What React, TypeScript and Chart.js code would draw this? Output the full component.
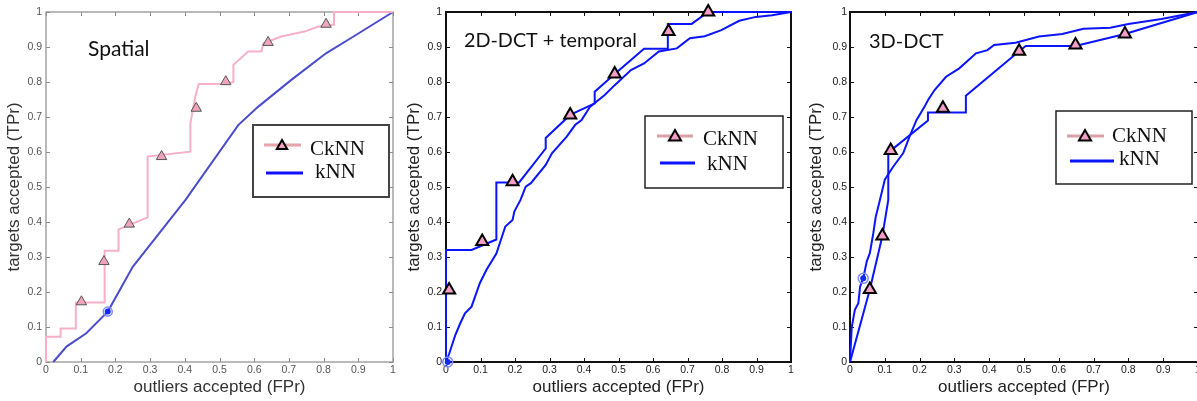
import { useEffect, useRef } from "react";
import { Chart, registerables } from "chart.js";

Chart.register(...registerables);

// ---------- shared axis data ----------
const AXIS_TICKS = [0, 0.1, 0.2, 0.3, 0.4, 0.5, 0.6, 0.7, 0.8, 0.9, 1];
const AXIS_TICK_LABELS = ["0", "0.1", "0.2", "0.3", "0.4", "0.5", "0.6", "0.7", "0.8", "0.9", "1"];
const X_TITLE = "outliers accepted (FPr)";
const Y_TITLE = "targets accepted (TPr)";
const SERIES_NAMES = ["CkNN", "kNN"];
const PANEL_TITLES = ["Spatial", "2D-DCT + temporal", "3D-DCT"];

// ---------- panel 1: Spatial ----------
const SP_CK_X = [0, 0, 0.042, 0.042, 0.086, 0.086, 0.169, 0.169, 0.209, 0.209, 0.293, 0.293, 0.416, 0.416, 0.43, 0.44, 0.516, 0.54, 0.54, 0.583, 0.621, 0.626, 0.678, 0.745, 0.783, 0.83, 0.83, 1];
const SP_CK_Y = [0, 0.072, 0.072, 0.096, 0.096, 0.17, 0.17, 0.318, 0.318, 0.379, 0.413, 0.587, 0.601, 0.682, 0.758, 0.794, 0.795, 0.8, 0.849, 0.887, 0.887, 0.91, 0.93, 0.944, 0.958, 0.964, 1, 1];
const SP_TRI_X = [0.102, 0.167, 0.24, 0.333, 0.433, 0.518, 0.64, 0.807];
const SP_TRI_Y = [0.172, 0.287, 0.394, 0.587, 0.725, 0.801, 0.913, 0.965];
const SP_KNN_X = [0.021, 0.059, 0.116, 0.178, 0.25, 0.402, 0.554, 0.611, 0.707, 0.807, 0.878, 1];
const SP_KNN_Y = [0, 0.044, 0.082, 0.144, 0.272, 0.463, 0.677, 0.729, 0.806, 0.882, 0.925, 1];
const SP_OP_X = [0.178];
const SP_OP_Y = [0.144];

// ---------- panel 2: 2D-DCT + temporal ----------
const DT_CK_X = [0, 0, 0.074, 0.146, 0.146, 0.212, 0.289, 0.289, 0.36, 0.431, 0.431, 0.489, 0.574, 0.643, 0.643, 0.712, 0.76, 1];
const DT_CK_Y = [0, 0.32, 0.32, 0.35, 0.513, 0.513, 0.61, 0.64, 0.706, 0.739, 0.772, 0.823, 0.895, 0.895, 0.966, 0.966, 1, 1];
const DT_TRI_X = [0.009, 0.105, 0.193, 0.36, 0.489, 0.645, 0.76];
const DT_TRI_Y = [0.206, 0.344, 0.515, 0.706, 0.823, 0.944, 1.0];
const DT_KNN_X = [0, 0.0097, 0.027, 0.041, 0.055, 0.074, 0.098, 0.117, 0.146, 0.172, 0.193, 0.198, 0.216, 0.231, 0.246, 0.289, 0.307, 0.35, 0.374, 0.393, 0.417, 0.46, 0.489, 0.536, 0.574, 0.617, 0.669, 0.707, 0.75, 0.798, 0.85, 0.898, 0.945, 1];
const DT_KNN_Y = [0, 0.025, 0.077, 0.11, 0.139, 0.158, 0.225, 0.263, 0.31, 0.387, 0.406, 0.43, 0.463, 0.501, 0.511, 0.563, 0.596, 0.644, 0.677, 0.691, 0.729, 0.763, 0.791, 0.834, 0.853, 0.887, 0.896, 0.925, 0.931, 0.948, 0.975, 0.986, 0.991, 1];
const DT_OP_X = [0.005];
const DT_OP_Y = [0];

// ---------- panel 3: 3D-DCT ----------
const DC_CK_X = [0, 0.057, 0.093, 0.11, 0.11, 0.117, 0.224, 0.224, 0.333, 0.333, 0.486, 0.505, 0.648, 0.79, 1];
const DC_CK_Y = [0, 0.207, 0.36, 0.463, 0.597, 0.604, 0.69, 0.713, 0.713, 0.761, 0.888, 0.903, 0.903, 0.937, 1];
const DC_TRI_X = [0.057, 0.093, 0.117, 0.267, 0.486, 0.648, 0.79];
const DC_TRI_Y = [0.207, 0.36, 0.604, 0.725, 0.888, 0.906, 0.937];
const DC_KNN_X = [0, 0.005, 0.014, 0.024, 0.029, 0.038, 0.048, 0.057, 0.067, 0.074, 0.086, 0.1, 0.124, 0.153, 0.171, 0.191, 0.214, 0.224, 0.243, 0.276, 0.314, 0.362, 0.395, 0.414, 0.476, 0.543, 0.61, 0.671, 0.748, 0.8, 0.895, 1];
const DC_KNN_Y = [0, 0.1, 0.149, 0.168, 0.215, 0.239, 0.287, 0.311, 0.368, 0.415, 0.463, 0.521, 0.558, 0.597, 0.644, 0.691, 0.729, 0.748, 0.777, 0.815, 0.839, 0.882, 0.891, 0.906, 0.912, 0.93, 0.937, 0.952, 0.955, 0.966, 0.98, 1];
const DC_OP_X = [0.038];
const DC_OP_Y = [0.239];

const pts = (xs: number[], ys: number[]) => xs.map((x, i) => ({ x, y: ys[i] }));

type Style = {
  left: number;
  width: number;
  yAxisWidth: number;
  padRight: number;
  yTitlePad: number;
  yTickPad: number;
  axisColor: string;
  axisWidth: number;
  tickColor: string;
  titleColor: string;
  ckColor: string;
  knnColor: string;
  triFill: string;
  triBorder: string;
  triBorderWidth: number;
  triRadius: number;
  opRing: number;
  title: { text: string; x: number; y: number; size: number };
  legend: {
    x: number; y: number; w: number; h: number; border: string; borderWidth: number;
    ckLine: string; knnLine: string;
    rows: { x1: number; x2: number; y: number; tx: number; ty: number }[];
    tri: number;
  };
};

const STYLES: Style[] = [
  {
    left: 0, width: 400, yAxisWidth: 46, padRight: 4, yTitlePad: 4, yTickPad: 4,
    axisColor: "#8c8c8c", axisWidth: 1.2, tickColor: "#555", titleColor: "#333",
    ckColor: "#f7b0c6", knnColor: "#4a4ccc",
    triFill: "#eea4ba", triBorder: "#555", triBorderWidth: 1, triRadius: 6,
    opRing: 4.5,
    title: { text: PANEL_TITLES[0], x: 88, y: 56, size: 21 },
    legend: {
      x: 253, y: 125, w: 136, h: 72, border: "#444", borderWidth: 2,
      ckLine: "#e8a2aa", knnLine: "#1010ff",
      rows: [
        { x1: 264, x2: 301, y: 145, tx: 310, ty: 155 },
        { x1: 266, x2: 303, y: 173, tx: 315, ty: 178 },
      ],
      tri: 282,
    },
  },
  {
    left: 400, width: 400, yAxisWidth: 46, padRight: 4, yTitlePad: 4, yTickPad: 4,
    axisColor: "#111", axisWidth: 2, tickColor: "#222", titleColor: "#222",
    ckColor: "#0a14ff", knnColor: "#0a14ff",
    triFill: "#f59ec6", triBorder: "#000", triBorderWidth: 2, triRadius: 7,
    opRing: 5,
    title: { text: PANEL_TITLES[1], x: 64, y: 47, size: 19.8 },
    legend: {
      x: 245, y: 116, w: 138, h: 72, border: "#222", borderWidth: 1.5,
      ckLine: "#dca0a8", knnLine: "#0a14ff",
      rows: [
        { x1: 257, x2: 293, y: 136, tx: 303, ty: 145 },
        { x1: 260, x2: 295, y: 163, tx: 307, ty: 170 },
      ],
      tri: 275,
    },
  },
  {
    left: 797, width: 410, yAxisWidth: 53, padRight: 7, yTitlePad: 9, yTickPad: 3,
    axisColor: "#111", axisWidth: 2, tickColor: "#222", titleColor: "#222",
    ckColor: "#0a14ff", knnColor: "#0a14ff",
    triFill: "#f59ec6", triBorder: "#000", triBorderWidth: 2, triRadius: 7,
    opRing: 5,
    title: { text: PANEL_TITLES[2], x: 72, y: 48, size: 20 },
    legend: {
      x: 259, y: 111, w: 136, h: 73, border: "#222", borderWidth: 1.5,
      ckLine: "#dca0a8", knnLine: "#0a14ff",
      rows: [
        { x1: 270, x2: 307, y: 136, tx: 315, ty: 142 },
        { x1: 273, x2: 317, y: 161, tx: 322, ty: 165 },
      ],
      tri: 288,
    },
  },
];

const PANEL_DATA = [
  { ck: pts(SP_CK_X, SP_CK_Y), tri: pts(SP_TRI_X, SP_TRI_Y), knn: pts(SP_KNN_X, SP_KNN_Y), op: pts(SP_OP_X, SP_OP_Y) },
  { ck: pts(DT_CK_X, DT_CK_Y), tri: pts(DT_TRI_X, DT_TRI_Y), knn: pts(DT_KNN_X, DT_KNN_Y), op: pts(DT_OP_X, DT_OP_Y) },
  { ck: pts(DC_CK_X, DC_CK_Y), tri: pts(DC_TRI_X, DC_TRI_Y), knn: pts(DC_KNN_X, DC_KNN_Y), op: pts(DC_OP_X, DC_OP_Y) },
];

function triPath(ctx: CanvasRenderingContext2D, x: number, y: number, r: number) {
  const s = Math.sin(Math.PI * 2 / 3) * r;
  ctx.beginPath();
  ctx.moveTo(x, y - r);
  ctx.lineTo(x + s, y + r / 2);
  ctx.lineTo(x - s, y + r / 2);
  ctx.closePath();
}

const framePlugin = {
  id: "frame",
  beforeDatasetsDraw(chart: any, _a: any, opts: any) {
    const st: Style = opts.style;
    const { ctx, chartArea } = chart;
    const { left, right, top, bottom } = chartArea;
    const xs = chart.scales.x;
    const ys = chart.scales.y;
    ctx.save();
    ctx.strokeStyle = st.axisColor;
    ctx.lineWidth = st.axisWidth;
    ctx.strokeRect(left, top, right - left, bottom - top);
    ctx.lineWidth = 1;
    const L = 4;
    ctx.beginPath();
    AXIS_TICKS.forEach((v) => {
      const px = Math.round(xs.getPixelForValue(v)) + 0.5;
      ctx.moveTo(px, bottom); ctx.lineTo(px, bottom - L);
      ctx.moveTo(px, top); ctx.lineTo(px, top + L);
      const py = Math.round(ys.getPixelForValue(v)) + 0.5;
      ctx.moveTo(left, py); ctx.lineTo(left + L, py);
      ctx.moveTo(right, py); ctx.lineTo(right - L, py);
    });
    ctx.stroke();
    ctx.restore();
  },
  afterDraw(chart: any, _a: any, opts: any) {
    const st: Style = opts.style;
    const { ctx } = chart;
    ctx.save();
    // panel title
    ctx.fillStyle = "#111";
    ctx.font = `${st.title.size}px Lato, "Open Sans", sans-serif`;
    ctx.textBaseline = "alphabetic";
    ctx.textAlign = "left";
    ctx.fillText(st.title.text, st.title.x, st.title.y);
    // legend
    const lg = st.legend;
    ctx.fillStyle = "#fff";
    ctx.fillRect(lg.x, lg.y, lg.w, lg.h);
    ctx.strokeStyle = lg.border;
    ctx.lineWidth = lg.borderWidth;
    ctx.strokeRect(lg.x, lg.y, lg.w, lg.h);
    ctx.font = `21px "Liberation Serif", "Times New Roman", serif`;
    lg.rows.forEach((r, i) => {
      ctx.strokeStyle = i === 0 ? lg.ckLine : lg.knnLine;
      ctx.lineWidth = 3;
      ctx.beginPath();
      ctx.moveTo(r.x1, r.y);
      ctx.lineTo(r.x2, r.y);
      ctx.stroke();
      if (i === 0) {
        triPath(ctx, lg.tri, r.y + 1, st.triRadius);
        ctx.fillStyle = st.triFill;
        ctx.fill();
        ctx.strokeStyle = "#000";
        ctx.lineWidth = 2;
        ctx.stroke();
      }
      ctx.fillStyle = "#111";
      ctx.fillText(SERIES_NAMES[i], r.tx, r.ty);
    });
    ctx.restore();
  },
};

function axisOpts(st: Style, isX: boolean) {
  return {
    type: "linear" as const,
    min: 0,
    max: 1,
    afterBuildTicks: (s: any) => {
      s.ticks = AXIS_TICKS.map((v) => ({ value: v }));
    },
    afterFit: (s: any) => {
      if (isX) s.height = 39;
      else s.width = st.yAxisWidth;
    },
    ticks: {
      autoSkip: false,
      maxRotation: 0,
      padding: isX ? 2 : st.yTickPad,
      color: st.tickColor,
      font: { family: '"Liberation Sans", Arial, sans-serif', size: 10.5 },
      callback: (_v: any, i: number) => AXIS_TICK_LABELS[i],
    },
    grid: { display: false, drawTicks: false },
    border: { display: false },
    title: {
      display: true,
      text: isX ? X_TITLE : Y_TITLE,
      color: st.titleColor,
      font: { family: '"Liberation Sans", Arial, sans-serif', size: 17 },
      padding: isX ? { top: 0, bottom: 3 } : { top: st.yTitlePad, bottom: 0 },
    },
  };
}

function Panel({ idx }: { idx: number }) {
  const ref = useRef<HTMLCanvasElement>(null);
  const st = STYLES[idx];
  useEffect(() => {
    const d = PANEL_DATA[idx];
    const chart = new Chart(ref.current as HTMLCanvasElement, {
      type: "scatter",
      data: {
        datasets: [
          { label: "op", data: d.op, pointRadius: 3, pointBackgroundColor: "#1428ff", pointBorderWidth: 0, showLine: false, clip: false } as any,
          { label: "op-ring", data: d.op, pointRadius: st.opRing, pointBackgroundColor: "rgba(0,0,0,0)", pointBorderColor: "#7d8cff", pointBorderWidth: 1.5, showLine: false, clip: false } as any,
          { label: SERIES_NAMES[0] + " markers", data: d.tri, pointStyle: "triangle", pointRadius: st.triRadius, pointBackgroundColor: st.triFill, pointBorderColor: st.triBorder, pointBorderWidth: st.triBorderWidth, showLine: false, clip: false } as any,
          { label: SERIES_NAMES[0], data: d.ck, showLine: true, borderColor: st.ckColor, borderWidth: 2, pointRadius: 0, tension: 0, clip: false } as any,
          { label: SERIES_NAMES[1], data: d.knn, showLine: true, borderColor: st.knnColor, borderWidth: 2, pointRadius: 0, tension: 0, clip: false } as any,
        ],
      },
      options: {
        animation: false,
        responsive: false,
        events: [],
        layout: { padding: { top: 12, right: st.padRight, left: 0, bottom: 0 } },
        plugins: {
          legend: { display: false },
          tooltip: { enabled: false },
          frame: { style: st },
        } as any,
        scales: {
          x: axisOpts(st, true) as any,
          y: axisOpts(st, false) as any,
        },
      },
      plugins: [framePlugin as any],
    });
    return () => chart.destroy();
  }, [idx]);
  return (
    <canvas
      ref={ref}
      width={st.width}
      height={401}
      style={{ position: "absolute", left: st.left, top: 0, width: st.width, height: 401 }}
    />
  );
}

export default function App() {
  return (
    <div
      style={{
        position: "fixed",
        left: 0,
        top: 0,
        width: 1197,
        height: 401,
        overflow: "hidden",
        background: "#fff",
      }}
    >
      <Panel idx={0} />
      <Panel idx={1} />
      <Panel idx={2} />
    </div>
  );
}
